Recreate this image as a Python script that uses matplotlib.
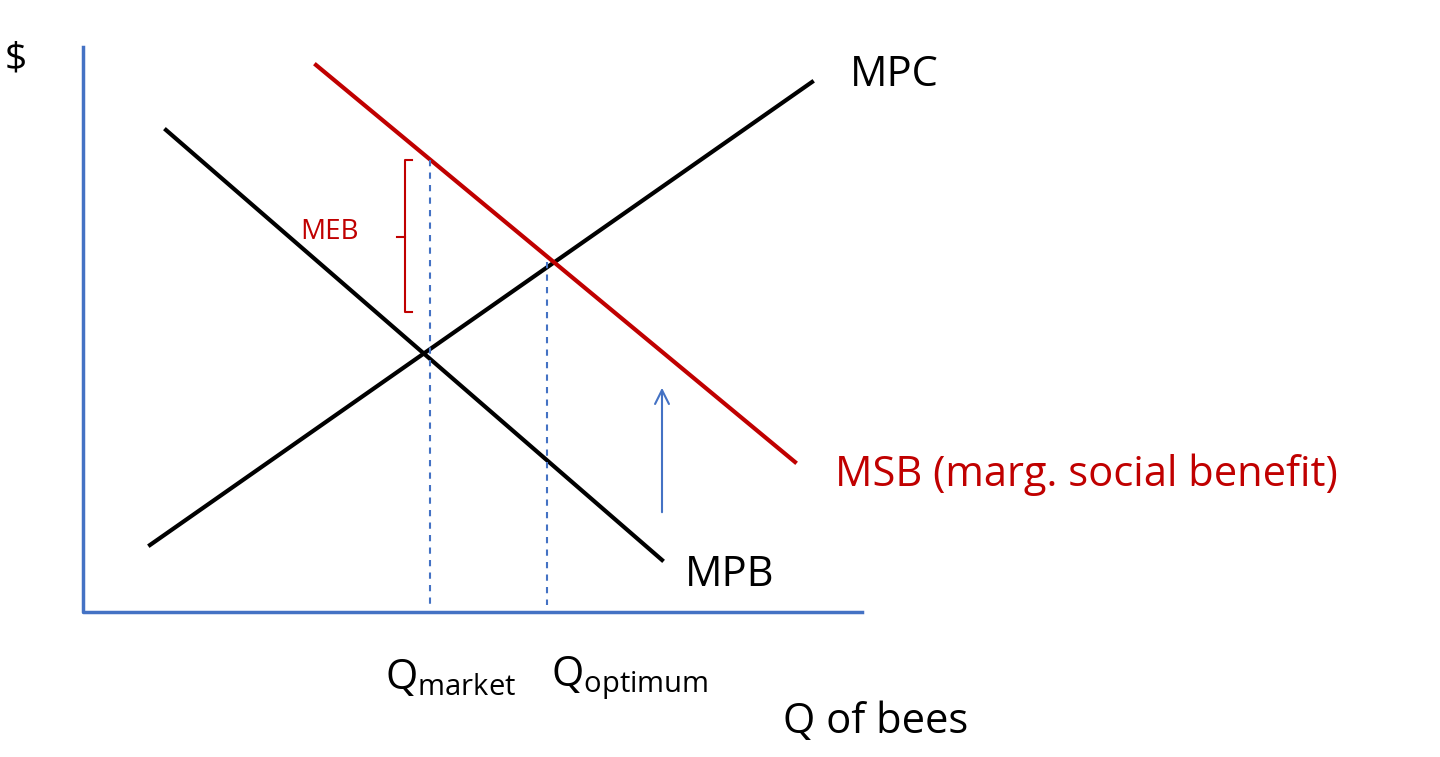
import matplotlib
matplotlib.use("Agg")
import matplotlib.pyplot as plt

# diagram coordinates (pixel-like units, y downward)
mpc_x = [150, 812]; mpc_y = [545, 82]
mpb_x = [166, 662]; mpb_y = [130, 560]
msb_x = [316, 795]; msb_y = [65, 462]
axis_x = [83, 83, 862]; axis_y = [47, 612, 612]
q_market = 430; q_market_top = 160
q_opt = 547; q_opt_top = 262
labels = {"mpc": "MPC", "mpb": "MPB", "msb": "MSB (marg. social benefit)", "meb": "MEB"}

plt.rcParams['font.family'] = ['Open Sans', 'DejaVu Sans']
fig = plt.figure(figsize=(14.4, 7.57), dpi=100)
ax = fig.add_axes([0, 0, 1, 1])
ax.set_xlim(0, 1440); ax.set_ylim(757, 0); ax.axis('off')

blue = '#4472C4'; red = '#C00000'
ax.plot(axis_x, axis_y, color=blue, lw=2.5)
ax.plot(mpc_x, mpc_y, color='black', lw=3)
ax.plot(mpb_x, mpb_y, color='black', lw=3)
ax.plot(msb_x, msb_y, color=red, lw=3)
ax.plot([q_market, q_market], [q_market_top, 605], color=blue, lw=1.5, ls=(0, (3, 3)))
ax.plot([q_opt, q_opt], [q_opt_top, 605], color=blue, lw=1.5, ls=(0, (3, 3)))
# bracket
ax.plot([412, 405, 405, 412], [160, 160, 312, 312], color=red, lw=1.5)
ax.plot([397, 405], [237, 237], color=red, lw=1.5)
ax.annotate('', xy=(662, 385), xytext=(662, 515),
            arrowprops=dict(arrowstyle='->', color=blue, lw=1.5, mutation_scale=25))

ax.text(5, 60, '$', fontsize=28, va='center')
ax.text(850, 75, labels["mpc"], fontsize=30, va='center')
ax.text(300, 232, labels["meb"], fontsize=20, va='center', color=red)
ax.text(835, 475, labels["msb"], fontsize=30, va='center', color=red)
ax.text(685, 575, labels["mpb"], fontsize=30, va='center')
ax.text(385, 678, r'Q$_{\mathregular{market}}$', fontsize=30, va='center')
ax.text(551, 678, r'Q$_{\mathregular{optimum}}$', fontsize=30, va='center')
ax.text(783, 722, 'Q of bees', fontsize=30, va='center')
fig.savefig('out.png', dpi=100)
